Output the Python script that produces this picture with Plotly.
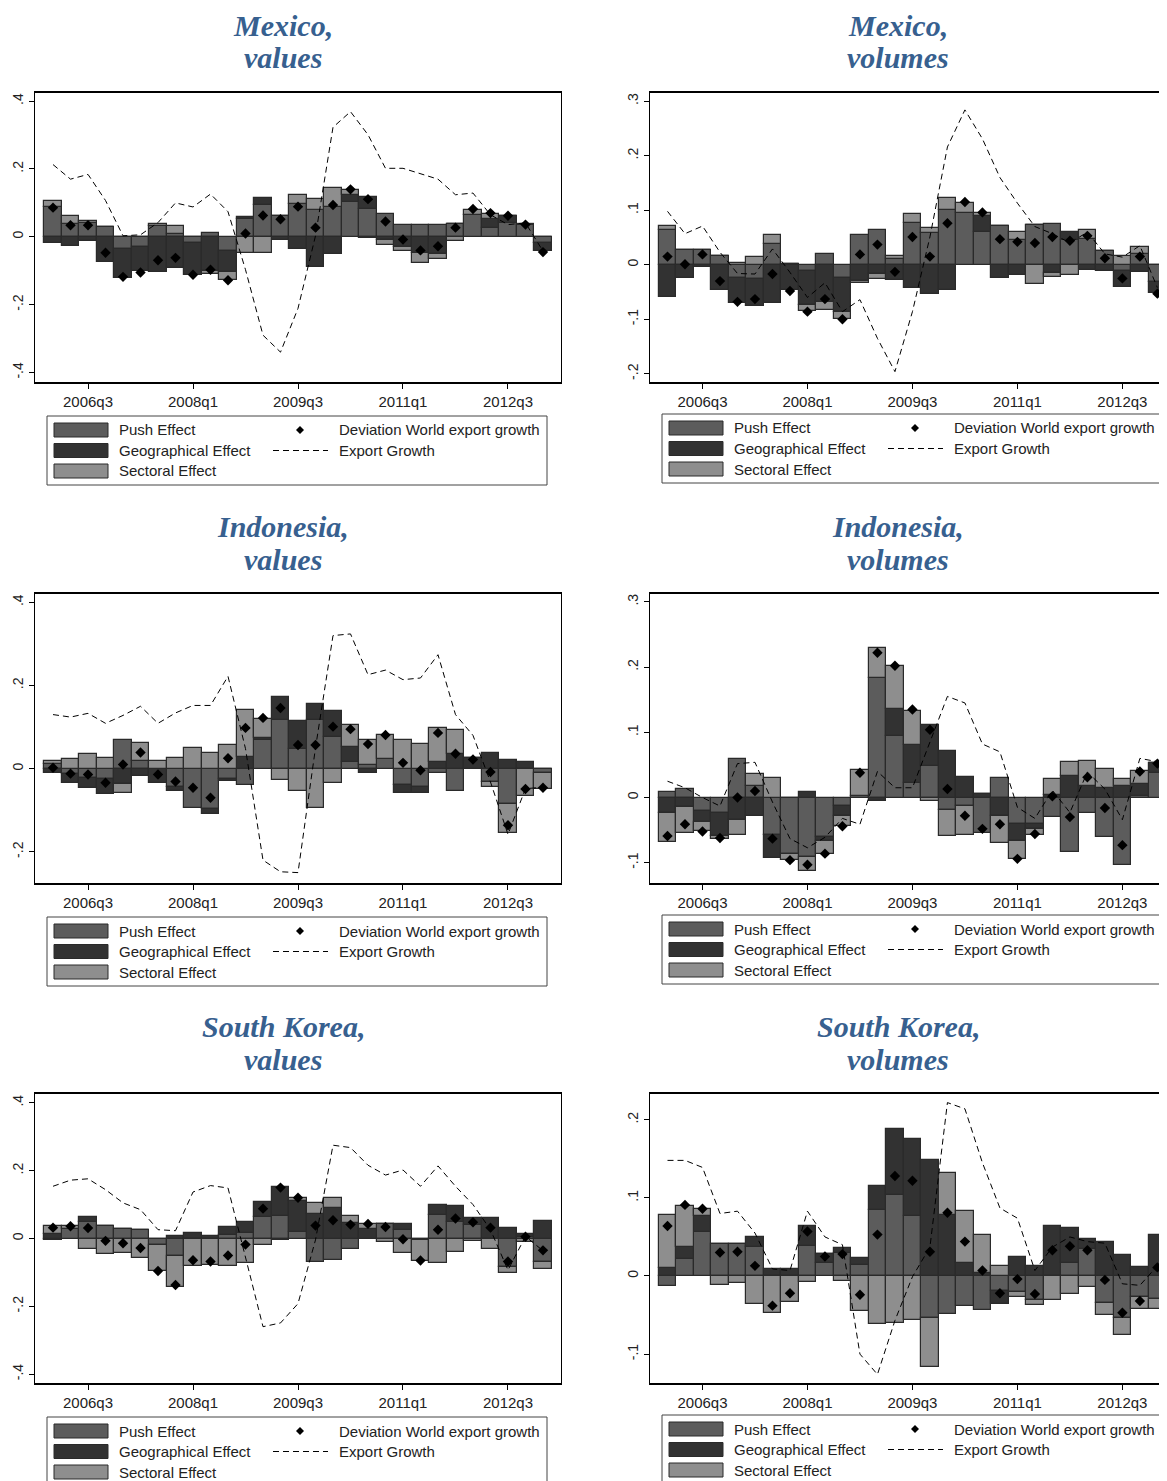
import plotly.graph_objects as go

# page body has an 8px margin; figure is sized/offset to compensate
OFF = 8
W, H = 1167 - OFF, 1481 - OFF

quarters = ["2006q1", "2006q2", "2006q3", "2006q4", "2007q1", "2007q2", "2007q3", "2007q4",
            "2008q1", "2008q2", "2008q3", "2008q4", "2009q1", "2009q2", "2009q3", "2009q4",
            "2010q1", "2010q2", "2010q3", "2010q4", "2011q1", "2011q2", "2011q3", "2011q4",
            "2012q1", "2012q2", "2012q3", "2012q4", "2013q1"]
tick_labels = ["2006q3", "2008q1", "2009q3", "2011q1", "2012q3"]

# ---- Mexico, values
mx_val_push = [0.088, 0.038, 0.040, 0.029, -0.035, -0.031, 0.031, 0.007, -0.017, 0.010, -0.042, 0.053, 0.095, 0.062, 0.098, 0.080, 0.087, 0.102, 0.083, 0.068, 0.035, 0.035, 0.035, 0.039, 0.063, 0.027, 0.040, 0.034, -0.017]
mx_val_geo = [-0.017, -0.027, -0.012, -0.075, -0.085, -0.071, -0.103, -0.092, -0.095, -0.100, -0.063, 0.005, 0.018, -0.009, -0.035, -0.090, -0.052, 0.022, 0.034, -0.010, -0.030, -0.047, -0.050, 0.000, 0.000, 0.026, 0.021, 0.000, -0.025]
mx_val_sect = [0.017, 0.024, 0.007, 0.000, 0.000, 0.000, 0.006, 0.026, 0.000, -0.009, -0.022, -0.049, -0.049, 0.000, 0.025, 0.032, 0.058, 0.014, -0.004, -0.015, -0.013, -0.030, -0.015, -0.013, 0.017, 0.015, 0.000, 0.005, 0.000]
mx_val_dev = [0.086, 0.034, 0.034, -0.047, -0.118, -0.105, -0.069, -0.062, -0.112, -0.097, -0.128, 0.010, 0.063, 0.052, 0.089, 0.027, 0.094, 0.140, 0.111, 0.045, -0.008, -0.040, -0.028, 0.027, 0.082, 0.070, 0.062, 0.036, -0.045]
mx_val_growth = [0.213, 0.170, 0.184, 0.107, 0.003, 0.006, 0.042, 0.100, 0.088, 0.126, 0.074, -0.097, -0.290, -0.340, -0.211, 0.003, 0.323, 0.369, 0.301, 0.202, 0.202, 0.186, 0.170, 0.124, 0.129, 0.065, 0.036, 0.041, -0.042]

# ---- Mexico, volumes
mx_vol_push = [0.063, 0.027, 0.027, 0.016, -0.025, -0.027, 0.038, 0.002, -0.011, 0.020, -0.024, 0.054, 0.063, 0.010, 0.077, 0.058, 0.100, 0.095, 0.060, 0.071, 0.046, 0.073, 0.075, 0.045, 0.047, 0.025, -0.011, 0.020, -0.032]
mx_vol_geo = [-0.060, -0.025, -0.005, -0.047, -0.046, -0.048, -0.071, -0.047, -0.063, -0.069, -0.062, -0.030, -0.017, -0.028, -0.042, -0.053, -0.047, 0.000, 0.029, -0.024, -0.018, 0.000, -0.016, 0.016, -0.009, -0.012, -0.030, -0.014, -0.020]
mx_vol_sect = [0.009, 0.000, 0.000, 0.000, 0.004, 0.014, 0.016, 0.000, -0.010, -0.014, -0.013, -0.004, -0.010, 0.006, 0.016, 0.010, 0.022, 0.018, 0.006, 0.000, 0.014, -0.035, -0.007, -0.019, 0.016, 0.000, 0.016, 0.012, 0.000]
mx_vol_dev = [0.015, 0.001, 0.019, -0.030, -0.068, -0.063, -0.017, -0.048, -0.086, -0.063, -0.100, 0.019, 0.037, -0.013, 0.051, 0.015, 0.076, 0.115, 0.096, 0.047, 0.042, 0.040, 0.051, 0.044, 0.053, 0.012, -0.025, 0.015, -0.053]
mx_vol_growth = [0.098, 0.057, 0.071, 0.023, -0.016, -0.017, 0.029, -0.014, -0.060, -0.033, -0.086, -0.064, -0.135, -0.196, -0.086, 0.051, 0.216, 0.284, 0.231, 0.160, 0.113, 0.070, 0.057, 0.040, 0.060, 0.020, 0.014, 0.035, -0.042]

# ---- Indonesia, values
id_val_push = [0.011, -0.012, -0.022, -0.025, 0.070, 0.018, 0.000, -0.044, -0.094, -0.096, -0.024, -0.040, 0.068, 0.118, 0.048, 0.116, 0.075, 0.016, 0.008, 0.024, -0.040, -0.044, -0.010, -0.054, 0.000, -0.033, -0.084, 0.000, -0.010]
id_val_geo = [-0.010, -0.022, -0.024, -0.035, -0.036, -0.018, -0.034, -0.010, 0.000, -0.012, -0.006, 0.028, 0.006, 0.054, 0.066, 0.039, 0.063, 0.036, -0.010, 0.000, -0.018, -0.014, 0.015, 0.035, 0.026, 0.038, 0.022, 0.015, 0.000]
id_val_sect = [0.007, 0.023, 0.035, 0.026, -0.022, 0.043, 0.019, 0.026, 0.050, 0.038, 0.056, 0.112, 0.046, -0.028, -0.053, -0.094, -0.034, 0.052, 0.062, 0.058, 0.070, 0.059, 0.083, 0.059, 0.000, -0.010, -0.070, -0.066, -0.038]
id_val_dev = [0.002, -0.012, -0.014, -0.034, 0.010, 0.039, -0.014, -0.031, -0.046, -0.070, 0.025, 0.098, 0.122, 0.146, 0.057, 0.057, 0.101, 0.095, 0.059, 0.081, 0.014, -0.004, 0.086, 0.036, 0.022, -0.008, -0.136, -0.049, -0.046]
id_val_growth = [0.130, 0.124, 0.133, 0.109, 0.128, 0.150, 0.109, 0.134, 0.152, 0.152, 0.222, 0.048, -0.220, -0.248, -0.250, 0.050, 0.320, 0.324, 0.226, 0.237, 0.214, 0.218, 0.274, 0.130, 0.080, -0.032, -0.158, -0.048, -0.045]

# ---- Indonesia, volumes
id_vol_push = [0.008, 0.013, -0.020, -0.024, 0.059, 0.018, -0.058, -0.087, -0.091, -0.061, -0.013, 0.002, 0.184, 0.094, 0.022, 0.048, -0.019, -0.013, -0.054, 0.030, -0.040, -0.041, -0.030, -0.084, -0.024, -0.061, -0.103, 0.002, 0.037]
id_vol_geo = [-0.024, -0.015, -0.018, -0.035, -0.034, -0.028, -0.035, 0.000, 0.009, -0.006, -0.015, 0.000, -0.006, 0.042, 0.059, 0.063, 0.072, 0.031, 0.005, -0.028, -0.027, -0.007, 0.004, 0.033, 0.018, 0.015, 0.018, 0.018, 0.016]
id_vol_sect = [-0.044, -0.039, -0.014, -0.004, -0.024, 0.018, 0.030, -0.008, -0.022, -0.020, -0.016, 0.040, 0.045, 0.066, 0.052, -0.006, -0.040, -0.044, 0.000, -0.041, -0.027, -0.009, 0.024, 0.022, 0.038, 0.028, 0.011, 0.021, 0.000]
id_vol_dev = [-0.059, -0.041, -0.052, -0.062, 0.000, 0.010, -0.063, -0.096, -0.103, -0.086, -0.044, 0.038, 0.222, 0.202, 0.135, 0.104, 0.013, -0.028, -0.048, -0.041, -0.094, -0.056, 0.002, -0.030, 0.031, -0.016, -0.073, 0.040, 0.052]
id_vol_growth = [0.025, 0.015, 0.000, -0.013, 0.052, 0.054, -0.007, -0.063, -0.077, -0.061, -0.032, -0.041, 0.040, 0.015, 0.015, 0.086, 0.155, 0.145, 0.082, 0.070, -0.015, -0.032, 0.011, -0.023, 0.039, 0.013, -0.034, 0.060, 0.055]

# ---- South Korea, values
kr_val_push = [-0.004, 0.028, 0.050, 0.038, 0.027, 0.026, -0.020, -0.053, 0.000, 0.000, 0.010, 0.015, 0.063, 0.065, 0.019, -0.068, -0.063, -0.030, 0.000, 0.043, 0.025, -0.005, 0.070, 0.048, 0.040, 0.000, -0.083, 0.005, -0.068]
kr_val_geo = [0.014, 0.000, 0.013, 0.000, 0.000, 0.000, 0.000, 0.006, 0.016, 0.006, 0.023, 0.035, 0.045, 0.087, 0.093, 0.073, 0.090, 0.045, 0.028, 0.000, 0.017, 0.000, 0.030, 0.049, 0.020, 0.060, 0.032, 0.009, 0.053]
kr_val_sect = [0.022, 0.008, -0.032, -0.046, -0.043, -0.056, -0.076, -0.091, -0.081, -0.078, -0.080, -0.071, -0.020, -0.004, 0.008, 0.031, 0.030, 0.022, 0.014, -0.009, -0.044, -0.060, -0.073, -0.039, -0.008, -0.031, -0.020, -0.009, -0.021]
kr_val_dev = [0.032, 0.036, 0.031, -0.007, -0.014, -0.028, -0.096, -0.137, -0.064, -0.068, -0.050, -0.018, 0.088, 0.150, 0.120, 0.038, 0.054, 0.041, 0.043, 0.034, -0.002, -0.065, 0.026, 0.059, 0.048, 0.032, -0.068, 0.005, -0.035]
kr_val_growth = [0.154, 0.172, 0.176, 0.144, 0.105, 0.085, 0.026, 0.023, 0.137, 0.156, 0.149, -0.060, -0.260, -0.249, -0.192, -0.004, 0.275, 0.268, 0.216, 0.187, 0.202, 0.154, 0.214, 0.154, 0.100, 0.026, -0.093, 0.006, -0.036]

# ---- South Korea, volumes
kr_vol_push = [-0.013, 0.022, 0.056, 0.041, 0.041, 0.037, 0.000, 0.000, 0.038, 0.016, 0.029, 0.014, 0.084, 0.104, 0.077, -0.054, -0.049, -0.039, -0.044, -0.019, -0.021, -0.031, 0.000, 0.016, 0.035, -0.034, -0.054, -0.027, -0.030]
kr_vol_geo = [0.010, 0.015, 0.021, 0.000, 0.000, 0.013, 0.009, 0.009, 0.026, 0.012, 0.007, 0.009, 0.031, 0.084, 0.099, 0.149, 0.078, 0.017, 0.004, -0.017, 0.024, 0.013, 0.064, 0.046, 0.012, 0.044, 0.027, 0.011, 0.053]
kr_vol_sect = [0.068, 0.053, 0.009, -0.011, -0.009, -0.036, -0.047, -0.033, -0.008, 0.000, -0.006, -0.045, -0.062, -0.060, -0.056, -0.063, 0.054, 0.066, 0.048, 0.013, -0.006, -0.006, -0.031, -0.023, -0.014, -0.016, -0.021, -0.015, -0.012]
kr_vol_dev = [0.064, 0.091, 0.086, 0.030, 0.031, 0.013, -0.038, -0.022, 0.057, 0.025, 0.028, -0.024, 0.053, 0.128, 0.122, 0.031, 0.081, 0.044, 0.007, -0.022, -0.004, -0.023, 0.033, 0.038, 0.033, -0.005, -0.047, -0.032, 0.011]
kr_vol_growth = [0.148, 0.148, 0.139, 0.080, 0.083, 0.055, 0.009, 0.007, 0.083, 0.050, 0.040, -0.100, -0.126, -0.057, -0.001, 0.037, 0.222, 0.214, 0.145, 0.087, 0.074, 0.007, 0.037, 0.050, 0.044, 0.042, -0.010, -0.012, 0.013]

title_line1 = ["Mexico,", "Mexico,", "Indonesia,", "Indonesia,", "South Korea,", "South Korea,"]
title_line2 = ["values", "volumes", "values", "volumes", "values", "volumes"]
series_names = ["Push Effect", "Geographical Effect", "Sectoral Effect"]
marker_name = "Deviation World export growth"
line_name = "Export Growth"

y_ticks_val = [-0.4, -0.2, 0, 0.2, 0.4]
y_ticks_val_txt = ["-.4", "-.2", "0", ".2", ".4"]

panels = [
    dict(push=mx_val_push, geo=mx_val_geo, sect=mx_val_sect, dev=mx_val_dev, gr=mx_val_growth,
         yr=[-0.428, 0.424], tv=y_ticks_val, tt=y_ticks_val_txt),
    dict(push=mx_vol_push, geo=mx_vol_geo, sect=mx_vol_sect, dev=mx_vol_dev, gr=mx_vol_growth,
         yr=[-0.215, 0.315], tv=[-0.2, -0.1, 0, 0.1, 0.2, 0.3], tt=["-.2", "-.1", "0", ".1", ".2", ".3"]),
    dict(push=id_val_push, geo=id_val_geo, sect=id_val_sect, dev=id_val_dev, gr=id_val_growth,
         yr=[-0.275, 0.42], tv=[-0.2, 0, 0.2, 0.4], tt=["-.2", "0", ".2", ".4"]),
    dict(push=id_vol_push, geo=id_vol_geo, sect=id_vol_sect, dev=id_vol_dev, gr=id_vol_growth,
         yr=[-0.131, 0.312], tv=[-0.1, 0, 0.1, 0.2, 0.3], tt=["-.1", "0", ".1", ".2", ".3"]),
    dict(push=kr_val_push, geo=kr_val_geo, sect=kr_val_sect, dev=kr_val_dev, gr=kr_val_growth,
         yr=[-0.426, 0.426], tv=y_ticks_val, tt=y_ticks_val_txt),
    dict(push=kr_vol_push, geo=kr_vol_geo, sect=kr_vol_sect, dev=kr_vol_dev, gr=kr_vol_growth,
         yr=[-0.137, 0.233], tv=[-0.1, 0, 0.1, 0.2], tt=["-.1", "0", ".1", ".2"]),
]

C_PUSH, C_GEO, C_SECT = "#5c5c5c", "#323232", "#8e8e8e"
C_EDGE = "#2a2a2a"
colors = [C_PUSH, C_GEO, C_SECT]
TITLE_COLOR = "#37608f"
FONT = "Liberation Sans, Arial, sans-serif"
SERIF = "Liberation Serif, Times New Roman, serif"

def px(x):
    return (x - OFF) / W

def py(y):
    return 1 - (y - OFF) / H

fig = go.Figure()

row_off = [0, 501, 1001]
col_off = [0, 615]

for k, p in enumerate(panels):
    r, c = divmod(k, 2)
    ax = "" if k == 0 else str(k + 1)
    xa, ya = "x" + ax, "y" + ax
    for name, key, col in zip(series_names, ["push", "geo", "sect"], colors):
        fig.add_trace(go.Bar(x=quarters, y=p[key], name=name, xaxis=xa, yaxis=ya, width=1.0,
                             marker=dict(color=col, line=dict(color=C_EDGE, width=1.2)),
                             showlegend=False))
    fig.add_trace(go.Scatter(x=quarters, y=p["gr"], mode="lines", name=line_name, xaxis=xa, yaxis=ya,
                             line=dict(color="black", width=1, dash="6px,4px"), showlegend=False))
    fig.add_trace(go.Scatter(x=quarters, y=p["dev"], mode="markers", name=marker_name, xaxis=xa, yaxis=ya,
                             marker=dict(symbol="diamond", color="black", size=8), showlegend=False))

    top, bot = 93 + row_off[r], 382 + row_off[r]
    left = 35 + col_off[c]
    dom_x = [px(left), px(561 + col_off[c])] if c == 0 else [px(left), 1.0]
    xr = [-1.03, 29.03] if c == 0 else [-1.0, 28.55]
    fig.layout["xaxis" + ax] = dict(
        domain=dom_x, anchor=ya, type="category", range=xr,
        tickmode="array", tickvals=tick_labels, ticktext=tick_labels,
        ticks="outside", ticklen=5, tickcolor="black", showgrid=False,
        showline=True, linecolor="black", linewidth=1.5, mirror=True,
        tickfont=dict(family=FONT, size=15, color="#222"), zeroline=False, fixedrange=True)
    fig.layout["yaxis" + ax] = dict(
        domain=[py(bot), py(top)], anchor=xa, range=p["yr"],
        tickmode="array", tickvals=p["tv"], ticktext=p["tt"], tickangle=-90,
        ticks="outside", ticklen=5, tickcolor="black", showgrid=False,
        showline=True, linecolor="black", linewidth=1, mirror=(c == 0),
        tickfont=dict(family=FONT, size=14, color="#222"), zeroline=False)

    # title (two lines)
    cx = 283 + col_off[c]
    fig.add_annotation(text="<b><i>" + title_line1[k] + "</i></b>", xref="paper", yref="paper",
                       x=px(cx), y=py(8 + row_off[r]), xanchor="center", yanchor="top",
                       showarrow=False, borderpad=0,
                       font=dict(family=SERIF, size=30, color=TITLE_COLOR))
    fig.add_annotation(text="<b><i>" + title_line2[k] + "</i></b>", xref="paper", yref="paper",
                       x=px(cx), y=py(58 + row_off[r]), xanchor="center", yanchor="middle",
                       showarrow=False, borderpad=0,
                       font=dict(family=SERIF, size=30, color=TITLE_COLOR))

    # legend box (drawn)
    ox = col_off[c]
    oy = row_off[r] - (2 if c == 1 else 0)
    fig.add_shape(type="rect", xref="paper", yref="paper",
                  x0=px(47 + ox), x1=px(547 + ox), y0=py(485 + oy), y1=py(416 + oy),
                  line=dict(color="#444", width=1), fillcolor="white")
    for j, (name, col) in enumerate(zip(series_names, colors)):
        y0 = 423 + 20.5 * j + oy
        fig.add_shape(type="rect", xref="paper", yref="paper",
                      x0=px(54 + ox), x1=px(108 + ox), y0=py(y0 + 14), y1=py(y0),
                      line=dict(color=C_EDGE, width=1), fillcolor=col)
        fig.add_annotation(text=name, xref="paper", yref="paper", x=px(117 + ox), y=py(y0 + 7),
                           xanchor="left", yanchor="middle", showarrow=False,
                           font=dict(family=FONT, size=15, color="#222"))
    dx, dy = 300 + ox, 430 + oy
    fig.add_shape(type="path", xref="paper", yref="paper",
                  path=f"M {px(dx)} {py(dy-4)} L {px(dx+4)} {py(dy)} L {px(dx)} {py(dy+4)} L {px(dx-4)} {py(dy)} Z",
                  fillcolor="black", line=dict(color="black", width=0))
    fig.add_shape(type="line", xref="paper", yref="paper",
                  x0=px(273 + ox), x1=px(328 + ox), y0=py(450.5 + oy), y1=py(450.5 + oy),
                  line=dict(color="black", width=1, dash="6px,4px"))
    fig.add_annotation(text=marker_name, xref="paper", yref="paper", x=px(337 + ox), y=py(430 + oy),
                       xanchor="left", yanchor="middle", showarrow=False,
                       font=dict(family=FONT, size=15, color="#222"))
    fig.add_annotation(text=line_name, xref="paper", yref="paper", x=px(337 + ox), y=py(450.5 + oy),
                       xanchor="left", yanchor="middle", showarrow=False,
                       font=dict(family=FONT, size=15, color="#222"))

fig.update_layout(width=W, height=H, barmode="relative", bargap=0,
                  margin=dict(l=0, r=0, t=0, b=0), plot_bgcolor="white", paper_bgcolor="white",
                  showlegend=False)

fig.write_html("out.html")
